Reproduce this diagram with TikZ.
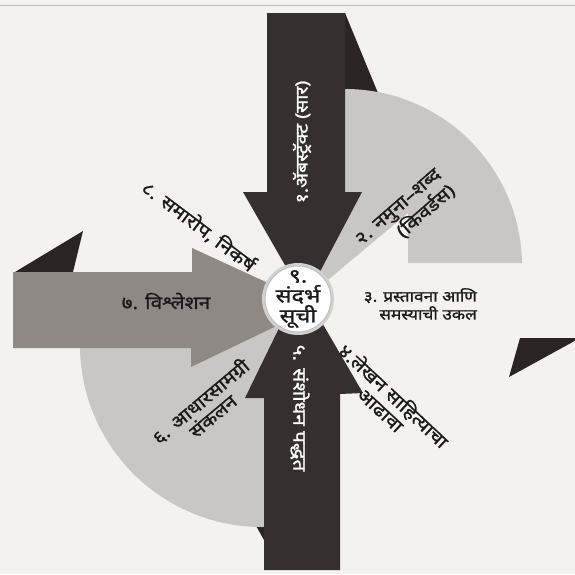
\documentclass[tikz,border=0pt]{standalone}
\usepackage{fontspec}
\newfontfamily\dev[Script=Devanagari, FakeStretch=1.15, FakeBold=1.2]{Noto Sans}
\newfontfamily\devhub[Script=Devanagari, FakeStretch=1.2, FakeBold=1.2]{Noto Sans}
\definecolor{bg}{HTML}{F3F2EF}
\definecolor{darka}{HTML}{35302D}
\definecolor{foldc}{HTML}{2A2523}
\definecolor{medg}{HTML}{8E8985}
\definecolor{lightg}{HTML}{C9C7C3}
\definecolor{ink}{HTML}{1A1A1A}
\tikzset{
  lbl/.style={font=\dev\fontsize{18}{19}\selectfont, text=ink, inner sep=0pt},
  lblw/.style={font=\dev\fontsize{17}{19}\selectfont, text=white, inner sep=0pt},
  hub/.style={circle, fill=white, draw=black!25, line width=1pt, minimum size=66pt, inner sep=0pt},
  hubtext/.style={align=center, inner sep=0pt, font=\devhub\fontsize{19.5}{20}\selectfont, text=ink},
}
\begin{document}
\begin{tikzpicture}[x=1pt,y=-1pt]
\useasboundingbox (0,0) rectangle (575,574);
\fill[bg] (0,0) rectangle (575,574);
\draw[black!25, line width=1pt] (0,5) -- (575,5);
% folds
\fill[foldc] (345,13) -- (385,110) -- (345,110) -- cycle;
\fill[foldc] (15,272) -- (83,231) -- (73,272) -- cycle;
\fill[foldc] (520,338) -- (580,338) -- (509,377) -- cycle;
\fill[foldc] (264,540) -- (250,515) -- (264,515) -- cycle;
% light grey quarter discs
\begin{scope}
  \clip (345,266) circle[radius=177pt];
  \fill[lightg] (343,50) -- (560,50) -- (560,263) -- (408,263) -- (408,213) -- (305,299) -- (343,200) -- cycle;
\end{scope}
\begin{scope}
  \clip (262,345) circle[radius=182pt];
  \fill[lightg] (0,345) -- (190,345) -- (300,299) -- (266,400) -- (266,600) -- (0,600) -- cycle;
\end{scope}
% straight arrows
\fill[medg] (13,272) -- (192,272) -- (192,248) -- (318,306) -- (191,367) -- (191,348) -- (13,348) -- cycle;
\fill[darka] (267,13) -- (345,13) -- (345,192) -- (362,192) -- (305,300) -- (243,192) -- (267,192) -- cycle;
\fill[darka] (264,570) -- (340,570) -- (340,394) -- (363,393) -- (300,285) -- (245,398) -- (264,398) -- cycle;
% hub
\fill[black!18] (298,299) circle[radius=36pt];
\node[hub] (hub) at (298,299) {};
\node[hubtext] (hubt) at (298,299) {९.\\संदर्भ\\सूची};
% labels
\node[lblw, rotate=90] (l1) at (302,142) {१.ॲबस्ट्रॅक्ट (सार)};
\node[lbl, rotate=41, align=right] (l2) at (406,216) {२. नमुना–शब्द\\(किवर्डस)};
\node[lbl, align=right, anchor=east, font=\dev\fontsize{15}{18}\selectfont] (l3) at (477,304) {३. प्रस्तावना आणि\\समस्याची उकल};
\node[lbl, rotate=-43, align=center] (l4) at (388,402) {४.लेखन साहित्याचा\\आढावा};
\node[lblw, rotate=-90, font=\dev\fontsize{18}{19}\selectfont] (l5) at (300,408) {५. संशोधन पद्धत};
\node[lbl, rotate=40, align=center] (l6) at (206,408) {६. आधारसामग्री\\संकलन};
\node[lbl] (l7) at (166,301) {७. विश्लेशन};
\node[lbl, rotate=-37] (l8) at (199,226) {८. समारोप, निकर्ष};
\end{tikzpicture}
\end{document}
